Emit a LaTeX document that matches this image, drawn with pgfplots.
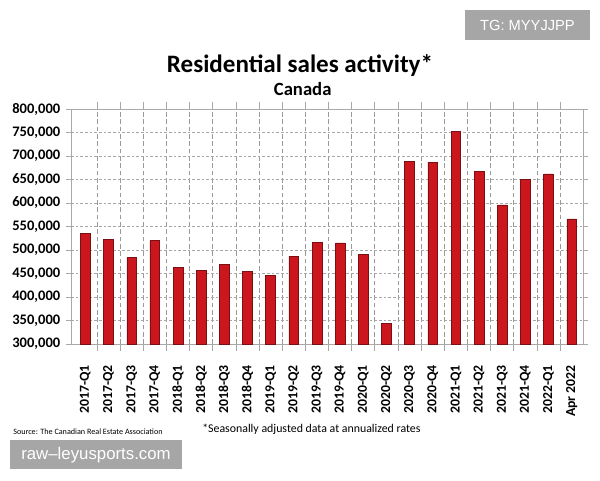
\documentclass[border=0pt]{standalone}
\usepackage{pgfplots}
\pgfplotsset{compat=1.18}
\usepackage{fontspec}
\setmainfont{Carlito}
\newfontfamily\wmfont{Liberation Sans}
\definecolor{barred}{HTML}{CC161E}
\definecolor{baredge}{HTML}{7A1014}
\definecolor{gridgray}{HTML}{A8A8A8}
\definecolor{vgridgray}{HTML}{9A9A9A}
\definecolor{boxgray}{HTML}{A6A6A6}

\pgfplotstableread{
idx value
0  535000
1  523000
2  484000
3  520000
4  463000
5  457000
6  469000
7  455000
8  446000
9  487000
10 516000
11 515000
12 490000
13 344000
14 688000
15 687000
16 752000
17 667000
18 596000
19 650000
20 662000
21 566000
}\salesdata

\begin{document}
\begin{tikzpicture}[x=1pt,y=1pt]
\path[use as bounding box, fill=white] (0,0) rectangle (450,360);

\begin{axis}[
  at={(53.25pt,102pt)}, anchor=south west,
  scale only axis,
  width=384pt, height=176.25pt,
  ymin=300000, ymax=800000,
  ytick={300000,350000,...,800000},
  scaled y ticks=false,
  xmin=-0.62, xmax=21.49,
  xtick={0,...,21},
  xticklabels={2017-Q1,2017-Q2,2017-Q3,2017-Q4,2018-Q1,2018-Q2,2018-Q3,2018-Q4,2019-Q1,2019-Q2,2019-Q3,2019-Q4,2020-Q1,2020-Q2,2020-Q3,2020-Q4,2021-Q1,2021-Q2,2021-Q3,2021-Q4,2022-Q1,Apr 2022},
  minor xtick={0.5,1.5,...,20.5},
  major x tick style={draw=none},
  minor x tick style={gridgray, line width=0.5pt},
  minor tick length=5pt,
  xminorgrids=true,
  ymajorgrids=true,
  minor x grid style={vgridgray, dash pattern=on 3.5pt off 2pt, line width=0.5pt},
  major y grid style={gridgray, dash pattern=on 2pt off 1.5pt, line width=0.4pt},
  axis line style={gridgray, line width=0.6pt},
  ytick style={gridgray, line width=0.5pt},
  tick align=outside,
  major tick length=3.5pt,
  xticklabel style={rotate=90, anchor=east, font=\fontsize{10.3}{12}\selectfont\bfseries, xshift=-9pt},
  yticklabel style={font=\fontsize{10.9}{12}\selectfont\bfseries, xshift=-1pt},
  yticklabel={\pgfmathprintnumber[fixed, 1000 sep={,}, assume math mode=true]{\tick}},
]
\addplot[ybar, bar width=7.3pt, fill=barred, draw=baredge, line width=0.4pt]
  table[x=idx, y=value] {\salesdata};
\end{axis}

% headings
\node[font=\fontsize{18.8}{22}\selectfont\bfseries] at (225,311) {Residential sales activity*};
\node[font=\fontsize{14}{16}\selectfont\bfseries] at (227,293) {Canada};

% footnotes
\node[font=\fontsize{6.1}{7}\selectfont, anchor=west, inner sep=0pt] at (9.75,36) {Source: The Canadian Real Estate Association};
\node[font=\fontsize{8.9}{10}\selectfont, anchor=west, inner sep=0pt] at (151.5,38) {*Seasonally adjusted data at annualized rates};

% tags
\fill[boxgray] (348.75,330) rectangle (442.5,352.5);
\node[font=\wmfont\fontsize{11}{12}\selectfont, text=white] at (395.6,341.25) {TG: MYYJJPP};
\fill[boxgray] (7.5,8.25) rectangle (136.5,30);
\node[font=\wmfont\fontsize{12.6}{14}\selectfont, text=white] at (72,19) {raw–leyusports.com};
\end{tikzpicture}
\end{document}
